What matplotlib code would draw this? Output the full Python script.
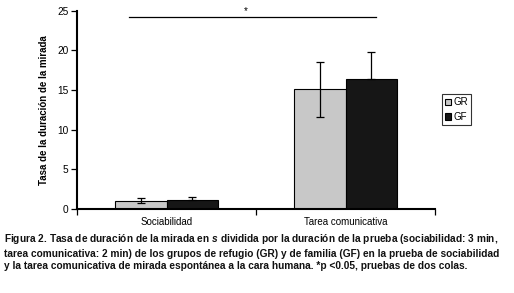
import numpy as np
import matplotlib.pyplot as plt

plt.rcParams['font.family'] = ['Liberation Sans', 'DejaVu Sans']
plt.rcParams['mathtext.fontset'] = 'custom'
plt.rcParams['mathtext.it'] = 'Liberation Sans:italic:bold'

categorias = ['Sociabilidad', 'Tarea comunicativa']
gr = [1.0, 15.1]
gr_err = [0.3, 3.45]
gf = [1.1, 16.4]
gf_err = [0.35, 3.4]
grupos = ['GR', 'GF']

fig = plt.figure(figsize=(5.14, 2.93), dpi=100)
ax = fig.add_axes([0.1498, 0.2877, 0.6967, 0.675])

x = np.arange(len(categorias))
w = 0.288
ekw = dict(ecolor='black', elinewidth=0.9, capsize=3, capthick=0.9)
ax.bar(x - w/2, gr, w, color='#c8c8c8', edgecolor='black', lw=0.8, label=grupos[0],
       yerr=gr_err, error_kw=ekw)
# la parte inferior de la barra de error queda oculta por la barra negra
ax.bar(x + w/2, gf, w, color='#161616', edgecolor='black', lw=0.8, label=grupos[1],
       yerr=[np.zeros(len(gf_err)), gf_err], error_kw=ekw)

# línea de significancia
ax.plot([-0.21, 1.17], [24.2, 24.2], color='black', lw=0.9, clip_on=False)
ax.text(0.44, 24.4, '*', ha='center', va='bottom', fontsize=7)

ax.set_xlim(-0.5, 1.5)
ax.set_ylim(0, 25)
ax.set_yticks([0, 5, 10, 15, 20, 25])
ax.set_xticks([-0.5, 0.5, 1.5])
ax.set_xticklabels([])
ax.set_xticks(x, minor=True)
ax.set_xticklabels(categorias, minor=True, fontsize=7)
ax.tick_params(axis='x', which='minor', length=0, pad=6)
ax.tick_params(axis='x', which='major', length=4, width=0.9, direction='out')
ax.tick_params(axis='y', length=4, width=0.9, labelsize=7.3, pad=2)
for s in ['top', 'right']:
    ax.spines[s].set_visible(False)
for s in ['left', 'bottom']:
    ax.spines[s].set_linewidth(1.5)
ax.set_ylabel('Tasa de la duración de la mirada', fontsize=7, fontweight='bold', labelpad=6)

leg = ax.legend(loc='center left', bbox_to_anchor=(1.01, 0.50), fontsize=7, frameon=True,
                fancybox=False, edgecolor='black', handlelength=0.7, handleheight=0.7,
                handletextpad=0.25, borderpad=0.3, labelspacing=0.5, borderaxespad=0.3)
leg.get_frame().set_linewidth(0.8)

caption = ('Figura 2. Tasa de duración de la mirada en $s$ dividida por la duración de la prueba (sociabilidad: 3 min,\n'
           'tarea comunicativa: 2 min) de los grupos de refugio (GR) y de familia (GF) en la prueba de sociabilidad\n'
           'y la tarea comunicativa de mirada espontánea a la cara humana. *p <0.05, pruebas de dos colas.')
fig.text(0.008, 0.208, caption, ha='left', va='top', fontsize=7.3, fontweight='bold',
         linespacing=1.33, color='#111111')

fig.savefig('out.png', dpi=100)
